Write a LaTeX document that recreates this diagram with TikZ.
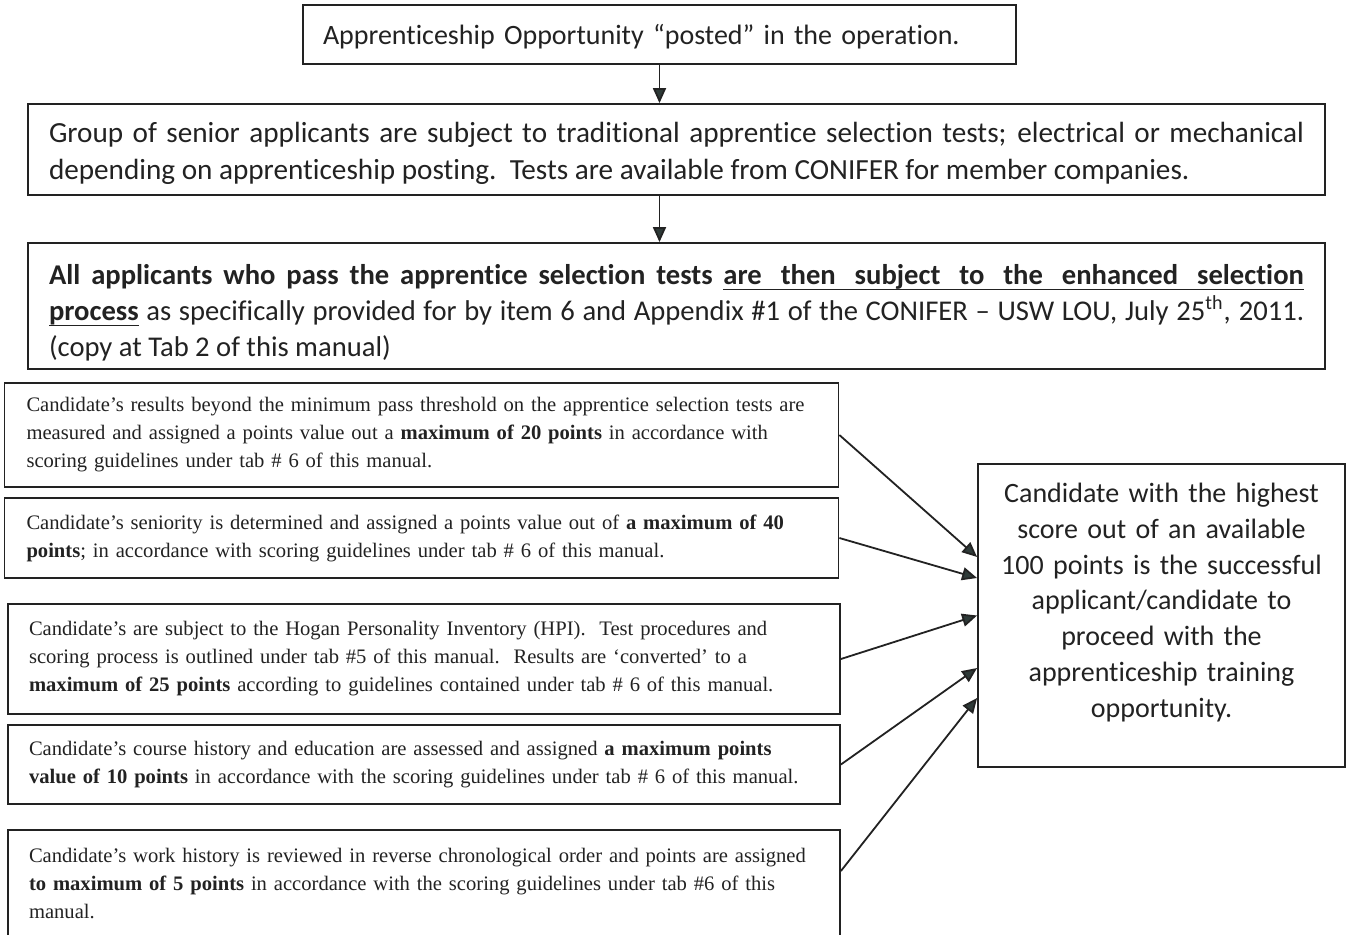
\documentclass[tikz,border=0pt]{standalone}
\usepackage{fontspec}
\setmainfont{Liberation Serif}
\newfontfamily\carlito[Ligatures={NoCommon}]{Carlito}
\usetikzlibrary{arrows.meta,calc}
\definecolor{inkgray}{HTML}{222222}
\definecolor{tipgray}{HTML}{2E3A38}
% underlined words and gaps that still stretch in a justified line
\newcommand\ulw[1]{\setbox0\hbox{#1}\rlap{\rule[-2.8pt]{\wd0}{0.6pt}}\box0}
\newcommand\ulgap{\leaders\hrule height -2.2pt depth 2.8pt\hskip .25em plus .3em minus .08em}

\begin{document}
\begin{tikzpicture}[x=0.5pt,y=-0.5pt,
    flowbox/.style={draw=inkgray,line width=.9pt,inner ysep=0pt,align=left,text=inkgray},
    smallbox/.style={draw=inkgray,line width=.9pt,inner ysep=0pt,align=left,text=inkgray,
      text width=395pt,font=\fontsize{10.3}{14}\selectfont},
    resultbox/.style={draw=inkgray,line width=.9pt,inner xsep=5pt,inner ysep=0pt,align=center,
      text width=173.5pt,minimum height=151.5pt,text=inkgray,
      font=\carlito\fontsize{14}{17.85}\selectfont},
    arrow/.style={-{Triangle[length=7.5pt,width=6.5pt,fill=tipgray]},draw=inkgray,line width=.9pt}]

\useasboundingbox (0,0) rectangle (1346,934);
\clip (0,0) rectangle (1346,934);
\fill[white] (0,0) rectangle (1346,934);

\node [flowbox,font=\carlito\fontsize{14}{18}\selectfont,inner xsep=10pt,text width=336.5pt,minimum height=29.5pt] (posted) at (659.5,34.5)
  {\rule{0pt}{12pt}Apprenticeship Opportunity “posted” in the operation.};

\node [flowbox,font=\carlito\fontsize{14.6}{18.5}\selectfont,inner xsep=10.5pt,text width=627.5pt,minimum height=45.5pt,align=justify] (tests) at (676.5,149.5)
  {\rule{0pt}{14pt}Group of senior applicants are subject to traditional apprentice selection tests; electrical or mechanical\linebreak
   depending on apprenticeship posting.\ \ Tests are available from CONIFER for member companies.};

\node [flowbox,font=\carlito\fontsize{14.3}{18}\selectfont,inner xsep=10.5pt,text width=627.5pt,minimum height=63pt,align=justify] (enhanced) at (676.5,306)
  {\rule{0pt}{16.5pt}\textbf{All applicants who pass the apprentice selection tests \ulw{are}\ulgap\ulw{then}\ulgap\ulw{subject}\ulgap\ulw{to}\ulgap\ulw{the}\ulgap\ulw{enhanced}\ulgap\ulw{selection}}\linebreak
   \textbf{\ulw{process}} as specifically provided for by item 6 and Appendix \#1 of the CONIFER – USW LOU, July 25\textsuperscript{th}, 2011.\linebreak
   (copy at Tab 2 of this manual)};

\draw [arrow] (posted.south) -- (posted.south |- tests.north);
\draw [arrow] (posted.south |- tests.south) -- (posted.south |- enhanced.north);

\node [smallbox,inner xsep=11pt,minimum height=52pt] (score) at (421.5,435)
  {Candidate’s results beyond the minimum pass threshold on the apprentice selection tests are\\
   measured and assigned a points value out a \textbf{maximum of 20 points} in accordance with\\
   scoring guidelines under tab \# 6 of this manual.};
\node [smallbox,inner xsep=11pt,minimum height=40pt] (senior) at (421.5,538)
  {Candidate’s seniority is determined and assigned a points value out of \textbf{a maximum of 40}\\
   \textbf{points}; in accordance with scoring guidelines under tab \# 6 of this manual.};
\node [smallbox,inner xsep=10.5pt,minimum height=55pt] (hogan) at (424,659)
  {Candidate’s are subject to the Hogan Personality Inventory (HPI).\ \ Test procedures and\\
   scoring process is outlined under tab \#5 of this manual.\ \ Results are ‘converted’ to a\\
   \textbf{maximum of 25 points} according to guidelines contained under tab \# 6 of this manual.};
\node [smallbox,inner xsep=10.5pt,minimum height=39.5pt] (course) at (424,764.5)
  {Candidate’s course history and education are assessed and assigned \textbf{a maximum points}\\
   \textbf{value of 10 points} in accordance with the scoring guidelines under tab \# 6 of this manual.};
\node [smallbox,inner xsep=10.5pt,minimum height=53pt] (work) at (424,883)
  {Candidate’s work history is reviewed in reverse chronological order and points are assigned\\
   \textbf{to maximum of 5 points} in accordance with the scoring guidelines under tab \#6 of this\\
   manual.};

\node [resultbox] (best) at (1161.5,615.5)
  {Candidate with the highest\\ score out of an available\\ 100 points is the successful\\
   applicant/candidate to\\ proceed with the\\ apprenticeship training\\ opportunity.\par\vspace{13pt}};

\draw [arrow] (score.east) -- ($(best.west)+(0,-58.5)$);
\draw [arrow] (senior.east) -- ($(best.west)+(0,-37.5)$);
\draw [arrow] (hogan.east) -- (best.west);
\draw [arrow] (course.east) -- ($(best.west)+(0,52.5)$);
\draw [arrow] ($(work.east)+(0,-12)$) -- ($(best.west)+(0,82.5)$);
\end{tikzpicture}
\end{document}
